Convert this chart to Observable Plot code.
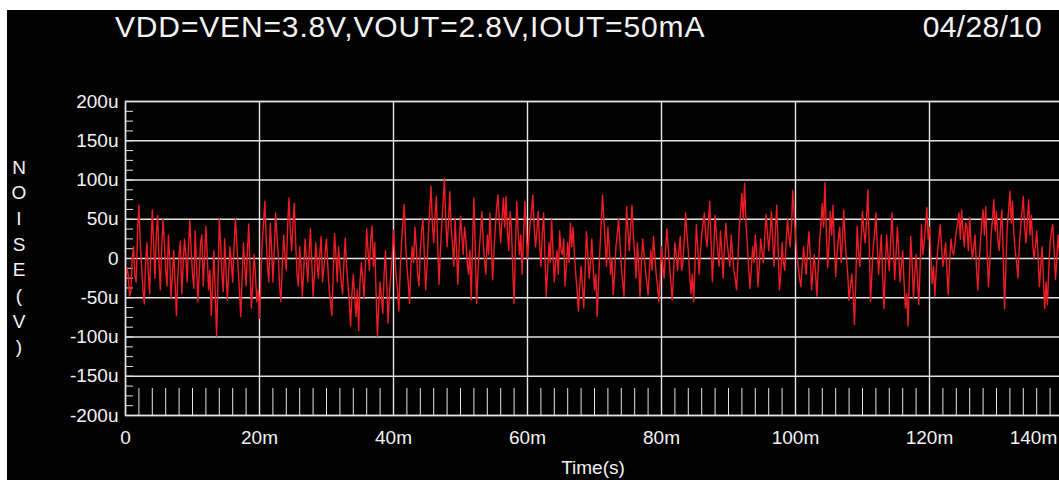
<!DOCTYPE html>
<html><head><meta charset="utf-8">
<script src="https://cdn.jsdelivr.net/npm/d3@7"></script>
<script src="https://cdn.jsdelivr.net/npm/@observablehq/plot@0.6"></script>
<style>
html,body{margin:0;padding:0;background:#fff;overflow:hidden;width:1059px;height:480px;}
#frame{position:absolute;left:7px;top:10px;width:1052px;height:470px;background:#020202;overflow:hidden;font-family:"Liberation Sans",Arial,sans-serif;color:#f2f2f2;}
#title{position:absolute;left:108px;top:2px;font-size:30px;line-height:30px;letter-spacing:0.85px;white-space:nowrap;}
#date{position:absolute;right:17px;top:2px;font-size:30px;line-height:30px;letter-spacing:0.3px;white-space:nowrap;}
#ylabel{position:absolute;left:0px;top:144.5px;width:24px;text-align:center;font-size:19px;line-height:25.7px;}
#xlabel{position:absolute;left:486px;top:448px;width:200px;text-align:center;font-size:19px;line-height:19px;}
#chart{position:absolute;left:0;top:70px;width:1066px;height:400px;}
#chart svg{max-width:none !important;}
</style></head>
<body>
<div id="frame">
  <div id="title">VDD=VEN=3.8V,VOUT=2.8V,IOUT=50mA</div>
  <div id="date">04/28/10</div>
  <div id="ylabel">N<br>O<br>I<br>S<br>E<br>(<br>V<br>)</div>
  <div id="xlabel">Time(s)</div>
  <div id="chart"></div>
</div>
<script>
// Sampled output noise, microvolts, one sample every 0.2 ms from 0 to 140 ms
const sampleStepMs = 0.2;
const noiseUV = [
  -35,-12,-20,-48,-42,0,15,-22,-30,35,68,22,-10,-40,-58,-5,20,-18,-45,12,
  62,18,-25,30,55,-5,-40,12,50,20,-15,-35,30,0,-50,-20,10,-30,-73,-25,
  5,22,-45,-10,25,5,-30,15,48,10,-20,-38,35,-8,-55,-20,20,30,-35,0,
  41,5,-40,-15,-73,-35,10,-45,-99,-30,50,18,-20,-42,25,-15,-53,-18,15,-5,
  -30,15,50,22,-10,-40,-74,-25,20,-8,-35,10,44,-20,-63,-30,5,-22,-55,-40,
  -76,-30,20,45,73,25,-10,-30,45,15,-30,10,58,30,5,-35,-55,-10,30,5,
  -15,40,77,35,10,45,70,20,-20,-35,15,-10,-48,-15,25,0,-30,5,38,-5,
  -48,-20,20,-5,-25,5,28,-30,-14,8,25,-10,-40,-55,-73,-20,32,5,-30,15,
  -10,-30,-45,-5,26,-10,-33,-55,-86,-45,-20,-50,-74,-40,-92,-30,-5,-25,-50,-10,
  38,10,-15,25,41,-10,20,-45,-99,-60,-30,-50,-70,-20,10,-35,-82,-45,-20,0,
  36,5,-25,-40,-67,-15,20,45,69,20,-10,-30,-57,-10,15,-5,40,15,-20,-35,
  10,35,50,5,-40,-10,30,60,92,45,20,55,79,15,-33,10,44,70,102,50,
  15,45,85,40,20,-10,50,10,-33,15,54,30,5,40,25,-5,-20,10,-53,20,
  77,15,-57,-20,10,35,60,20,-5,-20,30,5,58,15,-27,10,40,65,81,45,
  20,50,77,40,79,35,10,60,40,-15,-57,15,73,35,5,30,-20,25,73,40,
  0,25,45,60,81,40,15,35,60,20,-10,30,58,5,-48,-15,20,-5,50,10,
  -30,-5,10,-20,35,10,5,25,-35,-10,20,-5,45,15,40,5,-20,-40,-67,-35,
  -10,-35,-63,-15,34,5,-25,-5,25,-10,-40,-20,-74,-30,10,45,81,50,20,-10,
  40,15,-20,0,-46,-20,15,30,50,20,-10,-30,-48,10,66,35,10,40,68,30,
  5,-25,20,-10,-48,-5,25,5,-15,-30,-46,-15,10,-15,28,5,-20,-35,-55,-25,
  15,-10,-25,10,38,15,-10,-30,-53,-20,20,5,-15,10,28,-15,-5,25,58,30,
  10,-20,-45,-20,-55,-10,43,15,-20,5,30,45,58,30,15,45,73,20,-30,10,
  55,30,10,-10,35,10,-25,15,45,20,5,-10,30,5,-15,-25,-40,-5,40,60,
  83,50,96,45,20,-10,-38,-15,15,-5,30,5,-36,-10,25,10,-5,25,56,35,
  10,30,60,25,-10,35,68,15,-40,-20,20,-5,-15,20,50,30,15,40,87,55,
  30,5,-10,-25,-36,-10,15,-5,-20,10,34,5,-40,-15,5,-20,-48,-10,20,45,
  70,40,97,35,-12,20,60,30,68,15,-23,5,25,40,-5,20,62,25,0,-20,
  -53,-35,-20,-45,-84,-30,41,10,-10,25,60,35,20,50,88,20,-55,-20,15,30,
  58,15,-20,5,30,-20,-64,-15,30,5,-15,20,58,15,-27,5,40,10,-30,-10,
  10,-30,-63,-45,-86,-25,28,-5,-50,-20,5,-25,-59,-10,43,5,20,40,65,25,
  40,5,-32,-10,-48,-15,10,25,43,15,-10,5,20,-15,-46,-5,25,10,5,20,
  35,45,58,25,62,35,15,45,40,10,52,20,0,15,30,-10,-40,-5,20,45,
  62,30,66,10,-36,-5,30,50,75,35,60,25,10,40,62,5,-64,-10,40,60,
  86,45,73,30,10,-5,-25,15,40,60,79,40,20,50,75,30,55,20,0,15,
  35,5,-36,-10,15,-25,-64,-30,-59,-15,20,35,43,10,-27,0,30,5,-10,10,25
];
const yTickValues = [200,150,100,50,0,-50,-100,-150,-200];
const yTickLabels = ["200u","150u","100u","50u","0","-50u","-100u","-150u","-200u"];
const xTickValues = [0,20,40,60,80,100,120,140];
const xTickLabels = ["0","20m","40m","60m","80m","100m","120m","140m"];
const yMinorStepUV = 12.5;
const xMinorStepMs = 2;

const data = noiseUV.map((v, i) => ({t: i * sampleStepMs, v}));
const yMinor = d3.range(-200, 200 + 1e-9, yMinorStepUV);
const xMinor = d3.range(0, 140 + 1e-9, xMinorStepMs);
const yFmt = d => yTickLabels[yTickValues.indexOf(d)];
const xFmt = d => xTickLabels[xTickValues.indexOf(d)];
const gridColor = "#e4e4e4";

const chart = Plot.plot({
  width: 1066, height: 400,
  marginLeft: 118, marginRight: 10, marginTop: 21, marginBottom: 65,
  style: {background: "transparent", color: "#f2f2f2", fontFamily: "'Liberation Sans', Arial, sans-serif", fontSize: "19px", overflow: "visible", maxWidth: "none"},
  x: {domain: [0, 140], label: null},
  y: {domain: [-200, 200], label: null},
  marks: [
    Plot.gridX(xTickValues, {stroke: gridColor, strokeOpacity: 1, strokeWidth: 1.4}),
    Plot.gridY(yTickValues, {stroke: gridColor, strokeOpacity: 1, strokeWidth: 1.4}),
    Plot.axisY(yMinor, {tickSize: -8, text: null, stroke: gridColor, label: null}),
    Plot.axisX(xMinor, {tickSize: -27, text: null, stroke: gridColor, label: null}),
    Plot.line(data, {x: "t", y: "v", stroke: "#ee1c24", strokeWidth: 1.4}),
    Plot.axisY(yTickValues, {tickSize: 0, tickPadding: 7, tickFormat: yFmt, label: null, fill: "#f2f2f2"}),
    Plot.axisX(xTickValues.slice(0, -1), {tickSize: 0, tickPadding: 15, tickFormat: xFmt, label: null, fill: "#f2f2f2"}),
    Plot.axisX(xTickValues.slice(-1), {tickSize: 0, tickPadding: 15, tickFormat: xFmt, label: null, dx: -30, fill: "#f2f2f2"}),
    Plot.frame({stroke: gridColor, strokeWidth: 1.4})
  ]
});
document.getElementById("chart").appendChild(chart);
</script>
</body></html>
